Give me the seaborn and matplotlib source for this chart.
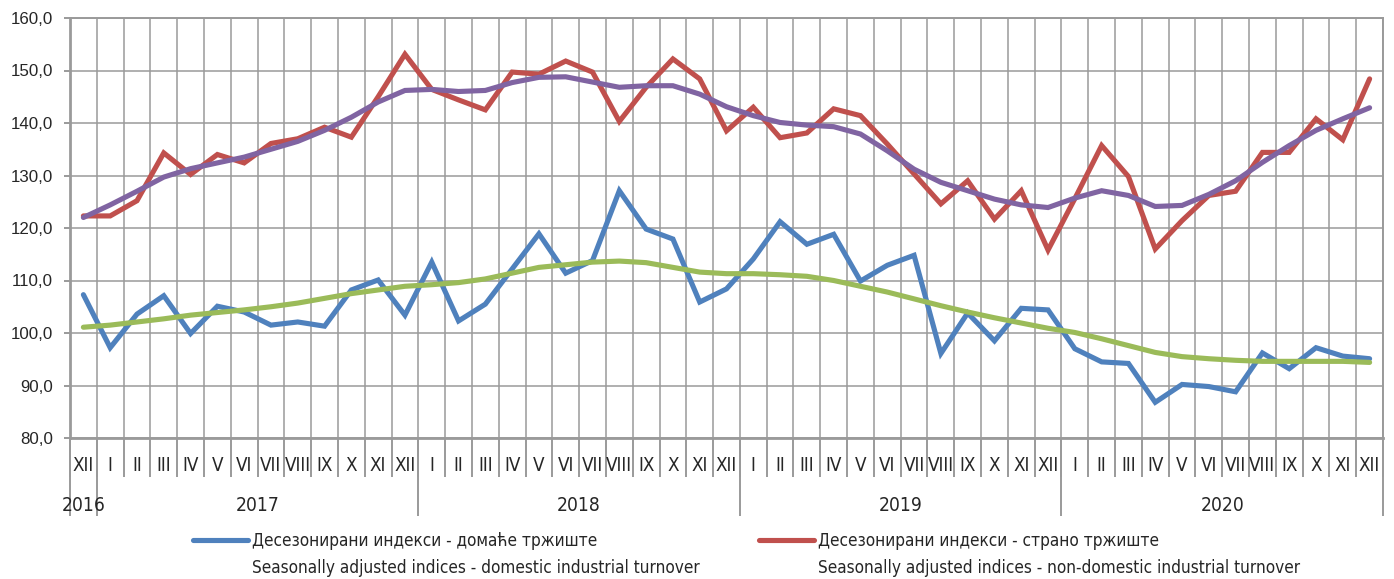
import numpy as np
import pandas as pd
import seaborn as sns
import matplotlib
matplotlib.use("Agg")
import matplotlib.pyplot as plt
from matplotlib.lines import Line2D
from matplotlib import font_manager

# -----------------------------
# Data (XII 2016 - XII 2020)
# -----------------------------
months = ["XII",
          "I", "II", "III", "IV", "V", "VI", "VII", "VIII", "IX", "X", "XI", "XII",
          "I", "II", "III", "IV", "V", "VI", "VII", "VIII", "IX", "X", "XI", "XII",
          "I", "II", "III", "IV", "V", "VI", "VII", "VIII", "IX", "X", "XI", "XII",
          "I", "II", "III", "IV", "V", "VI", "VII", "VIII", "IX", "X", "XI", "XII"]
years = ["2016", "2017", "2018", "2019", "2020"]

domestic = [107.3, 97.2, 103.6, 107.1, 99.9, 105.1, 104.0, 101.5, 102.1, 101.3, 108.2, 110.1, 103.4,
            113.5, 102.3, 105.5, 112.2, 118.9, 111.4, 113.8, 127.1, 119.8, 117.9, 105.9, 108.4,
            114.1, 121.2, 116.9, 118.8, 109.9, 112.9, 114.8, 96.1, 103.8, 98.5, 104.7, 104.4,
            97.0, 94.5, 94.2, 86.8, 90.2, 89.8, 88.8, 96.2, 93.2, 97.2, 95.6, 95.1]
non_domestic = [122.3, 122.3, 125.2, 134.3, 130.2, 134.0, 132.4, 136.1, 137.0, 139.2, 137.3, 145.0, 153.1,
                146.4, 144.4, 142.5, 149.7, 149.3, 151.8, 149.7, 140.3, 146.8, 152.2, 148.4, 138.5,
                143.0, 137.2, 138.1, 142.7, 141.4, 136.0, 130.3, 124.6, 129.0, 121.7, 127.1, 115.8,
                125.6, 135.7, 129.8, 116.0, 121.4, 126.2, 127.0, 134.4, 134.4, 140.8, 136.8, 148.4]
domestic_trend = [101.1, 101.5, 102.1, 102.7, 103.4, 103.9, 104.4, 105.0, 105.7, 106.6, 107.5, 108.2, 108.9,
                  109.2, 109.6, 110.3, 111.4, 112.5, 113.0, 113.5, 113.7, 113.4, 112.5, 111.6, 111.3,
                  111.3, 111.1, 110.8, 110.0, 108.9, 107.8, 106.5, 105.2, 104.0, 102.9, 101.9, 100.9,
                  100.1, 98.9, 97.6, 96.3, 95.5, 95.1, 94.8, 94.6, 94.6, 94.6, 94.6, 94.4]
non_domestic_trend = [122.0, 124.4, 127.0, 129.7, 131.3, 132.4, 133.5, 135.0, 136.5, 138.6, 141.1, 144.0, 146.2,
                      146.4, 146.0, 146.2, 147.7, 148.7, 148.8, 147.8, 146.8, 147.1, 147.1, 145.5, 143.1,
                      141.4, 140.1, 139.6, 139.3, 137.9, 134.7, 131.2, 128.7, 127.1, 125.5, 124.4, 123.9,
                      125.7, 127.1, 126.2, 124.1, 124.3, 126.4, 129.0, 132.5, 135.7, 138.6, 140.8, 142.9]

label_dom = "Десезонирани индекси - домаће тржиште"
label_dom_en = "Seasonally adjusted indices - domestic industrial turnover"
label_for = "Десезонирани индекси - страно тржиште"
label_for_en = "Seasonally adjusted indices - non-domestic industrial turnover"

# -----------------------------
# Style / fonts
# -----------------------------
sns.set_style("white")
names = {f.name for f in font_manager.fontManager.ttflist}
regular = "Liberation Sans" if "Liberation Sans" in names else "DejaVu Sans"
plt.rcParams["font.family"] = [regular, "DejaVu Sans"]

# look for a condensed face (Arial Narrow look); otherwise shrink the regular one
narrow_path = None
for f in font_manager.fontManager.ttflist:
    if f.style == "normal" and f.weight in (400, "normal", "regular") and \
            ("Narrow" in f.name or f.stretch in ("condensed", "semi-condensed")):
        narrow_path = f.fname
        break
if narrow_path:
    narrow = font_manager.FontProperties(fname=narrow_path)
    scale = 1.0
else:
    narrow = font_manager.FontProperties(family=regular)
    scale = 0.92

grid_c = "#9a9a9a"
colors = {"domestic": "#4F81BD", "non_domestic": "#C0504D",
          "domestic_trend": "#9BBB59", "non_domestic_trend": "#8064A2"}

# -----------------------------
# Long-form frame
# -----------------------------
x = np.arange(len(months))
df = pd.concat([
    pd.DataFrame({"x": x, "value": domestic, "series": "domestic"}),
    pd.DataFrame({"x": x, "value": non_domestic, "series": "non_domestic"}),
    pd.DataFrame({"x": x, "value": domestic_trend, "series": "domestic_trend"}),
    pd.DataFrame({"x": x, "value": non_domestic_trend, "series": "non_domestic_trend"}),
])

fig = plt.figure(figsize=(13.94, 5.79), dpi=100)
ax = fig.add_axes([70 / 1394, 1 - 438 / 579, 1313 / 1394, 420 / 579])

sns.lineplot(data=df, x="x", y="value", hue="series", palette=colors,
             linewidth=3.7, legend=False, ax=ax, zorder=3)
for ln in ax.lines:
    ln.set_solid_capstyle("round")
    ln.set_solid_joinstyle("miter")

# -----------------------------
# Axes
# -----------------------------
ax.set_ylim(80, 160)
ax.set_xlim(-0.5, len(months) - 0.5)
ax.set_yticks(np.arange(80, 161, 10))
ax.set_yticklabels([f"{v:.1f}".replace(".", ",") for v in np.arange(80, 161, 10)],
                   fontsize=12.2, family=regular)
ax.tick_params(axis="y", length=4.3, width=1.4, color=grid_c, pad=8, left=True)
ax.set_xlabel("")
ax.set_ylabel("")

def narrow_size(t, size):
    t.set_fontproperties(narrow)
    t.set_fontsize(size * scale)

# month boundaries (grid + long ticks) and month labels
ax.set_xticks(np.arange(-0.5, len(months)), labels=[""] * (len(months) + 1))
ax.set_xticks(x, labels=months, minor=True)
ax.tick_params(axis="x", which="major", length=28, width=1.4, color=grid_c, bottom=True)
ax.tick_params(axis="x", which="minor", length=0, pad=13)
for t in ax.get_xticklabels(minor=True):
    narrow_size(t, 13.5)

ax.grid(True, which="major", color=grid_c, linewidth=1.1)
for s in ax.spines.values():
    s.set_color(grid_c)
    s.set_linewidth(1.4)
ax.spines["left"].set_linewidth(2.0)
ax.spines["bottom"].set_linewidth(2.0)

# year separators and labels
starts = [i for i, m in enumerate(months) if m == "I"]
bounds = [-0.5] + [s - 0.5 for s in starts] + [len(months) - 0.5]
centers = [(a + b) / 2 for a, b in zip(bounds[:-1], bounds[1:])]
sec = ax.secondary_xaxis("bottom")
sec.set_xticks(bounds, labels=[""] * len(bounds))
sec.set_xticks(centers, labels=years, minor=True)
sec.tick_params(which="major", length=56, width=1.4, color=grid_c)
sec.tick_params(which="minor", length=0, pad=42)
for t in sec.get_xticklabels(minor=True):
    narrow_size(t, 13.8)
sec.spines["bottom"].set_visible(False)

# -----------------------------
# Legend (only the two index series)
# -----------------------------
blank = Line2D([], [], color="none")
handles = [Line2D([], [], color=colors["domestic"], lw=3.7, solid_capstyle="round"), blank,
           Line2D([], [], color=colors["non_domestic"], lw=3.7, solid_capstyle="round"), blank]
labels = [label_dom, label_dom_en, label_for, label_for_en]
leg_prop = narrow.copy()
leg_prop.set_size(12.3 * scale)
fig.legend(handles, labels, ncol=2, loc="upper left", bbox_to_anchor=(193 / 1394, 1 - 532 / 579),
           frameon=False, borderpad=0, borderaxespad=0, handlelength=3.2, handletextpad=0.25,
           columnspacing=3.5, labelspacing=0.5,
           prop=leg_prop)

plt.savefig("out.png", dpi=100)
